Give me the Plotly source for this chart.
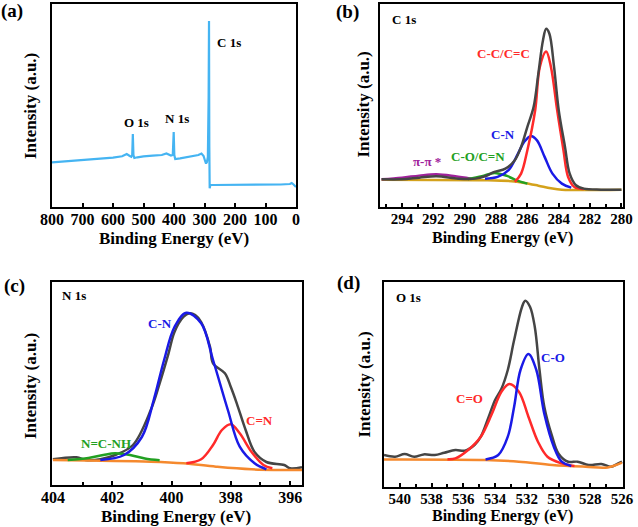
import plotly.graph_objects as go

# ---------------- data ----------------
# (a) survey
survey_be = [800, 750, 700, 650, 600, 570, 555, 545, 540, 537, 535, 533, 530, 520, 500, 470, 440,
             425, 410, 404, 401, 399, 396, 380, 360, 340, 320, 310, 303, 298, 295, 292, 289, 286.5,
             285.2, 284.2, 283, 281, 270, 250, 200, 150, 100, 50, 20, 14, 8, 0]
survey_int = [44.7, 45.7, 46.7, 47.7, 49.3, 50.7, 53, 51, 50.3, 52, 73, 52, 49, 49.7, 50.7, 51.3, 52,
              53.5, 51.5, 52, 75, 52, 48, 48.7, 50, 50.7, 52, 53.5, 51, 46, 43.5, 45, 50, 110,
              186, 60, 18.7, 22, 22, 22, 22.3, 22.3, 22.5, 22.5, 23, 24, 22.5, 20]

# (b) C 1s
c_env_be = [295.3, 294, 292.9, 291.8, 290.4, 289.3, 288.7, 288.1, 287.4, 286.8, 286.4, 286.0, 285.6,
            285.3, 285.0, 284.8, 284.6, 284.3, 284.0, 283.6, 283.3, 282.9, 282.4, 281.3, 280]
c_env = [27.7, 27.7, 29.3, 30.7, 28.3, 28.3, 30.7, 35, 38.3, 46.7, 60, 80, 100,
         133, 166.7, 177.7, 173, 140, 96.7, 60, 33.3, 21.7, 18.3, 17.3, 17.3]
c_cc_be = [286.8, 286.4, 286.0, 285.5, 285.2, 284.8, 284.5, 284.1, 283.7, 283.4, 283.0, 282.4]
c_cc = [25, 33.3, 56.7, 96.7, 140, 155, 140, 96.7, 56.7, 30, 20, 18]
c_cn_be = [288.7, 287.9, 287.2, 286.6, 286.2, 285.8, 285.4, 284.9, 284.4, 283.8, 283.2]
c_cn = [28.3, 30, 36.7, 53.3, 65, 70.7, 66.7, 50, 33.3, 23.3, 19.3]
c_co_be = [289.8, 288.9, 288.1, 287.3, 286.6, 286.0]
c_co = [28, 30.7, 34, 31, 26, 23.3]
c_pi_be = [295.3, 294, 292.9, 291.8, 290.6, 289.6]
c_pi = [27.7, 29.3, 31.3, 32.7, 30.7, 28.3]
c_bg_be = [295.3, 288.7, 287.0, 286.2, 285.3, 284.5, 283.8, 280]
c_bg = [27.3, 26.7, 25.7, 24, 21.3, 18.7, 17.3, 17.3]

# (c) N 1s
n_env_be = [404.0, 403.2, 402.9, 402.4, 401.9, 401.3, 400.7, 400.4, 400.1, 399.9, 399.6, 399.4, 399.2,
            399.0, 398.7, 398.6, 398.2, 398.0, 397.8, 397.5, 397.2, 396.8, 396.2, 396.0, 395.6]
n_env = [25.7, 27.7, 25, 25.7, 30, 40, 75, 101.7, 131.7, 153, 168, 171.7, 170,
         163, 138, 121.7, 111.7, 98, 81.7, 55, 33, 23, 20, 16.7, 17.7]
n_cn_be = [402.4, 401.6, 401.0, 400.6, 400.25, 399.9, 399.5, 399.0, 398.6, 398.1, 397.7, 397.2, 396.8]
n_cn = [25, 30, 48, 85, 125, 158, 172.3, 161.7, 125, 75, 38.3, 21.7, 15.7]
n_cdn_be = [399.5, 399.0, 398.6, 398.3, 398.0, 397.7, 397.3, 396.9, 396.6]
n_cdn = [21.7, 25.7, 40, 55, 60.7, 51.7, 33, 20, 16.7]
n_nh_be = [403.5, 402.8, 402.3, 401.9, 401.4, 400.9, 400.4]
n_nh = [25, 27, 30, 31.7, 30, 26.5, 24.7]
n_bg_be = [404.0, 400.7, 399.6, 398.5, 397.3, 395.6]
n_bg = [25, 23.3, 21.7, 18.3, 15.7, 15]

# (d) O 1s
o_env_be = [541.0, 540.3, 539.7, 539.1, 538.5, 537.8, 537.2, 536.5, 535.9, 535.3, 534.9, 534.4, 534.0,
            533.6, 533.2, 532.8, 532.3, 532.1, 531.8, 531.5, 531.2, 530.9, 530.4, 530.0, 529.4,
            528.8, 528.1, 527.3, 526.7, 526.3, 526.0]
o_env = [31.7, 30, 32.7, 30, 32.3, 31.7, 34, 36.7, 36, 41.7, 50, 70, 86.7,
         98, 116.7, 146.7, 180, 186, 180, 160, 116.7, 80, 50, 33, 25,
         25, 21.7, 22.7, 20, 22.7, 25]
o_cdo_be = [537.0, 536.5, 535.7, 534.9, 534.2, 533.6, 533.1, 532.5, 531.9, 531.3, 530.7, 529.8, 529.0]
o_cdo = [27.5, 28.3, 36.7, 50, 73, 95, 102.7, 95, 70, 45, 30, 23.3, 20.7]
o_co_be = [534.6, 533.8, 533.2, 532.8, 532.4, 531.9, 531.4, 530.9, 530.3, 529.8, 529.2]
o_co = [27.3, 31.7, 50, 80, 116.7, 132.7, 116.7, 73, 40, 25, 20.7]
o_bg_be = [541.0, 534.6, 532.5, 530.4, 528.3, 526.9, 526.0]
o_bg = [27.3, 26.7, 25, 21.7, 20, 19.3, 24]

# ---------------- figure ----------------
W, H = 638, 527
FONT = "Liberation Serif"
fig = go.Figure()

def px_dom(x0, x1):
    return [x0 / W, x1 / W]

def py_dom(y0, y1):
    return [1 - y1 / H, 1 - y0 / H]

panels = {
    "a": dict(x=px_dom(52, 296), y=py_dom(3.5, 207), xr=[800, 0], yr=[0, 203.5], dtick=100, minor=None, fs=16),
    "b": dict(x=px_dom(380, 623), y=py_dom(3.5, 207), xr=[295.4, 279.9], yr=[0, 203], dtick=2, minor=1, fs=15),
    "c": dict(x=px_dom(52, 302), y=py_dom(281.7, 485), xr=[404.03, 395.6], yr=[0, 203.3], dtick=2, minor=1, fs=16),
    "d": dict(x=px_dom(384, 623), y=py_dom(281.7, 486.7), xr=[541.0, 525.94], yr=[0, 205], dtick=2, minor=1, fs=15),
}
axmap = {"a": ("x", "y"), "b": ("x2", "y2"), "c": ("x3", "y3"), "d": ("x4", "y4")}

for i, (k, p) in enumerate(panels.items()):
    sfx = "" if i == 0 else str(i + 1)
    xa = dict(domain=p["x"], range=p["xr"], anchor="y" + sfx, showline=True, mirror=True,
              linecolor="black", linewidth=2, ticks="inside", ticklen=4, tickwidth=1.5,
              tickcolor="black", dtick=p["dtick"], showgrid=False, zeroline=False,
              ticklabelstandoff=-3, automargin=False,
              tickfont=dict(family=FONT, size=p["fs"], color="black", weight="bold"))
    if p["minor"]:
        xa["minor"] = dict(ticks="inside", ticklen=3, tickwidth=1.5, tickcolor="black",
                           dtick=p["minor"], showgrid=False)
    ya = dict(domain=p["y"], range=p["yr"], anchor="x" + sfx, showline=True, mirror=True,
              linecolor="black", linewidth=2, ticks="", showticklabels=False,
              showgrid=False, zeroline=False, automargin=False)
    fig.layout["xaxis" + sfx] = xa
    fig.layout["yaxis" + sfx] = ya

def add(xv, yv, color, ax, shape="spline", width=2.5):
    fig.add_trace(go.Scatter(x=xv, y=yv, mode="lines", xaxis=ax[0], yaxis=ax[1],
                             line=dict(color=color, width=width, shape=shape, smoothing=1.0),
                             showlegend=False, hoverinfo="skip"))

BLACK = "#454545"; RED = "#FF2A2A"; BLUE = "#1A1AE6"; GREEN = "#22A022"
PURPLE = "#A0229B"; GOLD = "#D4A21C"; ORANGE = "#F5892E"; SKY = "#45B4F2"

# (a)
add(survey_be, survey_int, SKY, axmap["a"], shape="linear", width=2.2)
# (b)
add(c_bg_be, c_bg, GOLD, axmap["b"])
add(c_pi_be, c_pi, PURPLE, axmap["b"])
add(c_co_be, c_co, GREEN, axmap["b"])
add(c_cn_be, c_cn, BLUE, axmap["b"])
add(c_cc_be, c_cc, RED, axmap["b"])
add(c_env_be, c_env, BLACK, axmap["b"])
# (c)
add(n_env_be, n_env, BLACK, axmap["c"])
add(n_bg_be, n_bg, ORANGE, axmap["c"])
add(n_nh_be, n_nh, GREEN, axmap["c"])
add(n_cdn_be, n_cdn, RED, axmap["c"])
add(n_cn_be, n_cn, BLUE, axmap["c"])
# (d)
add(o_env_be, o_env, BLACK, axmap["d"])
add(o_bg_be, o_bg, ORANGE, axmap["d"])
add(o_cdo_be, o_cdo, RED, axmap["d"])
add(o_co_be, o_co, BLUE, axmap["d"])

ann = []
def txt(x, y, s, color="black", size=13, xref="paper", yref="paper", xanchor="center", angle=0):
    if xref == "paper":
        x = x / W
        y = 1 - y / H
    ann.append(dict(x=x, y=y, xref=xref, yref=yref, text=s, showarrow=False, xanchor=xanchor,
                    yanchor="middle", textangle=angle,
                    font=dict(family=FONT, size=size, color=color, weight="bold")))

# panel letters
txt(12, 11, "(a)", size=19); txt(347, 12, "(b)", size=19)
txt(14, 286, "(c)", size=19); txt(348, 283, "(d)", size=19)
# axis titles
for (xc, yc, fs) in [(174, 238, 17), (503, 238, 16), (176, 516, 17), (503, 516, 16)]:
    txt(xc, yc, "Binding Energy (eV)", size=fs)
for (xc, yc) in [(30, 106), (363.5, 105), (30, 386), (363.5, 385)]:
    txt(xc, yc, "Intensity (a.u.)", size=17, angle=-90)
# peak labels (data coords)
txt(524.6, 84, "O 1s", xref="x", yref="y")
txt(390, 88, "N 1s", xref="x", yref="y")
txt(220, 164, "C 1s", xref="x", yref="y")
txt(294.77, 187, "C 1s", xref="x2", yref="y2", xanchor="left")
txt(287.5, 153, "C-C/C=C", RED, xref="x2", yref="y2")
txt(287.57, 72, "C-N", BLUE, xref="x2", yref="y2")
txt(289.15, 50, "C-O/C=N", GREEN, xref="x2", yref="y2")
txt(292.4, 45, "π-π *", PURPLE, xref="x2", yref="y2")
txt(403.75, 190, "N 1s", xref="x3", yref="y3", xanchor="left")
txt(400.38, 162, "C-N", BLUE, xref="x3", yref="y3")
txt(397.02, 65, "C=N", RED, xref="x3", yref="y3")
txt(402.2, 42, "N=C-NH", GREEN, xref="x3", yref="y3")
txt(540.4, 189.7, "O 1s", xref="x4", yref="y4", xanchor="left")
txt(530.35, 129.7, "C-O", BLUE, xref="x4", yref="y4")
txt(535.6, 88.7, "C=O", RED, xref="x4", yref="y4")

fig.update_layout(width=W, height=H, margin=dict(l=0, r=0, t=0, b=0, pad=0, autoexpand=False),
                  autosize=False,
                  paper_bgcolor="white", plot_bgcolor="white", annotations=ann,
                  showlegend=False)
fig.write_html("out.html", config={"displayModeBar": False, "responsive": False},
               post_script="document.body.style.margin='0';document.body.style.overflow='hidden';")
